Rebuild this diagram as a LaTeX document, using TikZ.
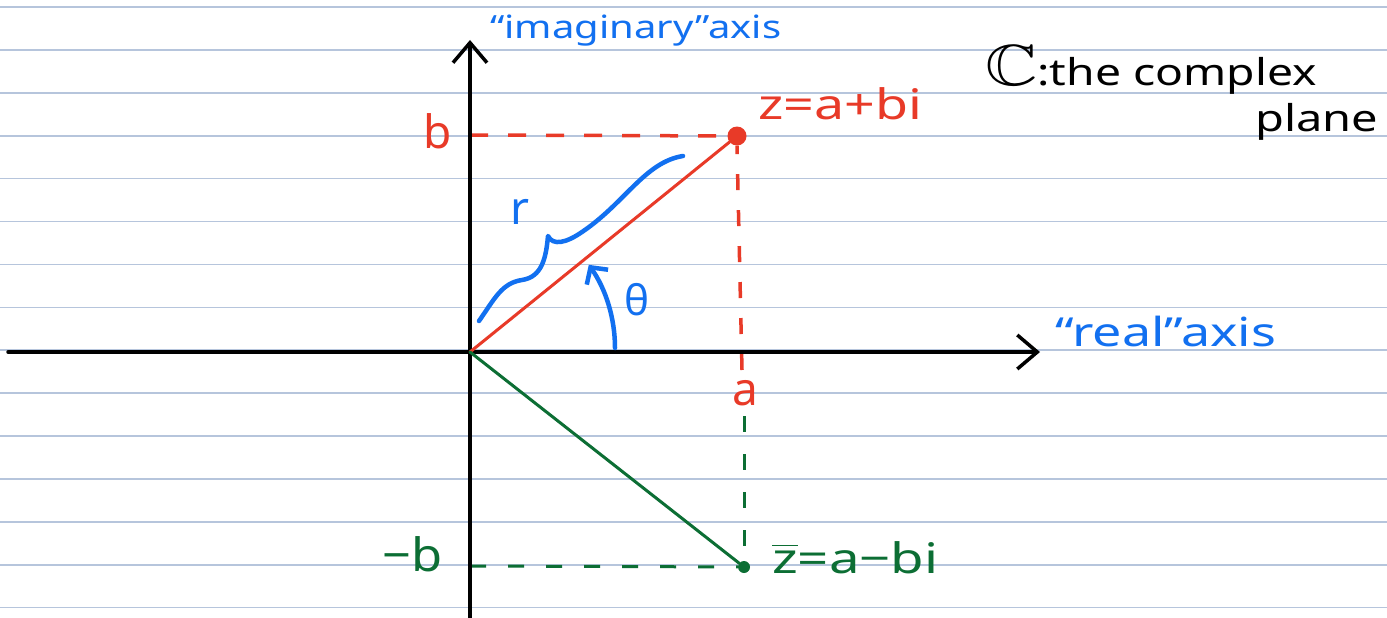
\documentclass[tikz,border=0pt]{standalone}
\usepackage{fontspec}
\setmainfont{Noto Sans}
\usepackage{amssymb}
\usepackage{graphicx}
\usetikzlibrary{arrows.meta}
\definecolor{penred}{RGB}{232,58,40}
\definecolor{penblue}{RGB}{18,112,240}
\definecolor{pengreen}{RGB}{12,110,52}
\definecolor{ruleline}{RGB}{182,197,220}
\newcommand{\hw}[3]{\scalebox{#2}[1]{\fontsize{#1}{#1}\selectfont #3}}
\begin{document}
\begin{tikzpicture}[x=1pt,y=-1pt,
  ruled/.style={ruleline, line width=1.6pt},
  axisline/.style={black, line width=3.5pt, line cap=round,
    -{Straight Barb[length=20pt,width=34pt,line width=3.5pt]}},
  redline/.style={penred, line width=3pt, line cap=round},
  greenline/.style={pengreen, line width=3pt, line cap=round},
  reddash/.style={penred, line width=3.5pt, dash pattern=on 18pt off 20pt},
  greendash/.style={pengreen, line width=3pt, dash pattern=on 16pt off 22pt},
  bluepen/.style={penblue, line width=4.5pt, line cap=round, line join=round},
  lbl/.style={inner sep=0pt},
  pt/.style={circle, inner sep=0pt, minimum size=#1}
]
\useasboundingbox (0,0) rectangle (1387,618);
\fill[white] (0,0) rectangle (1387,618);
% lined paper
\foreach \k in {0,...,14}
  \draw[ruled] (0,{7+42.9*\k}) -- (1387,{7+42.9*\k});

% coordinates
\coordinate (O) at (470,352);
\coordinate (xL) at (8,352);
\coordinate (xR) at (1040,352);
\coordinate (yB) at (470,625);
\coordinate (yT) at (470,40);
\coordinate (bT) at (470,135);
\coordinate (nbT) at (470,566);
\coordinate (aTop) at (742,370);
\coordinate (aBot) at (744,416);

% points
\node[pt=19pt, fill=penred] (z) at (737,136) {};
\node[pt=12pt, fill=pengreen] (zb) at (744,567) {};

% dashed guides
\draw[reddash] (bT) -- (z);
\draw[reddash, dash pattern=on 16pt off 20pt] (aTop) -- (z.south);
\draw[greendash] (aBot) -- (zb.north);
\draw[greendash] (nbT) -- (zb);

% axes
\draw[axisline] (xL) -- (xR);
\draw[axisline] (yB) -- (yT);

% vectors
\draw[redline] (O) -- (z);
\draw[greenline] (O) -- (zb);

% brace r
\draw[bluepen] (479,321) .. controls (495,298) and (502,283) .. (522,280)
  .. controls (542,277) and (546,258) .. (548,236)
  .. controls (553,246) and (566,243) .. (582,232)
  .. controls (625,203) and (645,162) .. (683,156);

% theta arc
\draw[bluepen, -{Straight Barb[length=12pt,width=26pt,line width=4.5pt]}]
  (615,348) arc[start angle=0, end angle=-35, radius=145];

% labels
\node[lbl, text=penred] (lb) at (438,131) {\hw{46}{1}{b}};
\node[lbl, text=pengreen] (lnb) at (413,554) {\hw{46}{1.1}{−b}};
\node[lbl, text=penred] (la) at (745,393) {\hw{46}{1}{a}};
\node[lbl, text=penred, anchor=west] (lz) at (758,104) {\hw{42}{1.28}{z=a+bi}};
\node[lbl, text=pengreen, anchor=west] (lzb) at (772,558) {\hw{42}{1.3}{$\overline{\hbox{z}}$=a−bi}};
\node[lbl, text=penblue] (lr) at (520,212) {\hw{46}{1}{r}};
\node[lbl, text=penblue] (lth) at (637,300) {\hw{42}{1}{θ}};
\node[lbl, text=penblue, anchor=west] (limag) at (490,31) {\hw{32}{1.25}{“imaginary”axis}};
\node[lbl, text=penblue, anchor=west] (lreal) at (1055,331) {\hw{40}{1.3}{“real”axis}};
\node[lbl, text=black, anchor=west] (ltitle) at (985,70) {\hw{37}{1.25}{{\fontsize{58}{58}\selectfont$\mathbb{C}$}:the complex}};
\node[lbl, text=black, anchor=west] (lplane) at (1255,122) {\hw{37}{1.27}{plane}};
\end{tikzpicture}
\end{document}
